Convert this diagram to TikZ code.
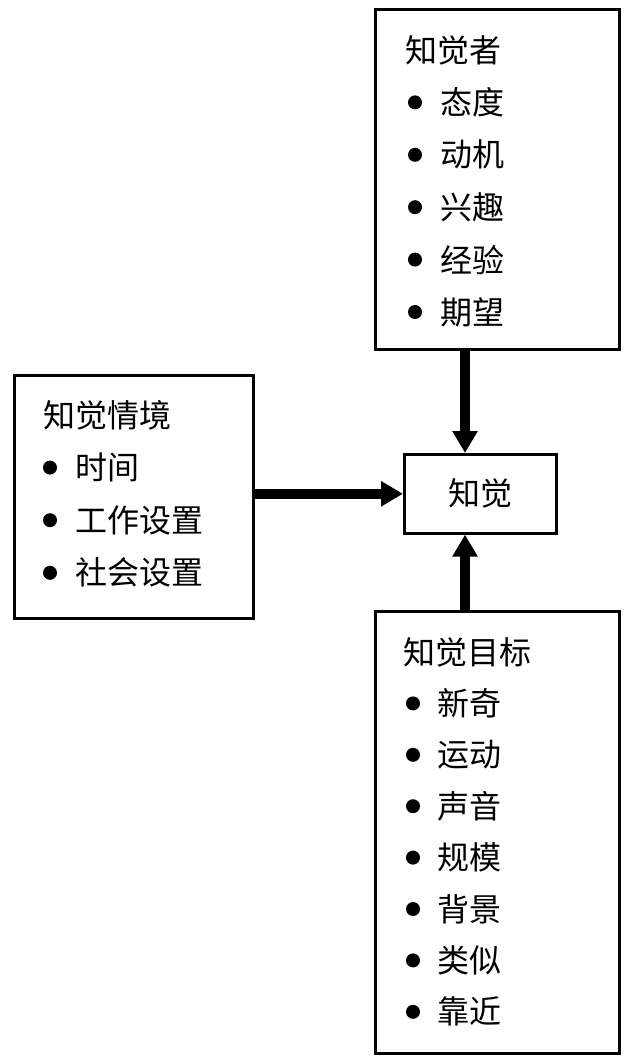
\documentclass[tikz,border=0pt]{standalone}
\usepackage{fontspec}
\setmainfont{Noto Sans CJK SC}
\usetikzlibrary{arrows.meta}

\begin{document}
\begin{tikzpicture}[x=0.5pt, y=-0.5pt,
  box/.style={draw, line width=1.3pt, inner sep=0pt, anchor=north west},
  dot/.style={circle, fill, inner sep=0pt, minimum size=7pt},
  txt/.style={anchor=west, inner sep=0pt, font=\fontsize{16}{20}\selectfont},
  flow/.style={line width=5pt, -{Triangle[length=11pt, width=12pt]}}]
  \useasboundingbox (0,0) rectangle (631,1063);

  % 四个方框
  \node[box, minimum width=122pt, minimum height=170pt] (per) at (374,8) {};
  \node[box, minimum width=119.5pt, minimum height=121.5pt] (sit) at (13,374) {};
  \node[box, minimum width=76pt, minimum height=39.5pt] (ctr) at (403,453) {};
  \node[box, minimum width=122pt, minimum height=221pt] (tgt) at (374,610) {};

  \node[font=\fontsize{16}{20}\selectfont] (ctrtxt) at (ctr) {知觉};

  % 知觉者
  \node[txt] (pertitle) at (405,50) {知觉者};
  \foreach \t [count=\i] in {态度, 动机, 兴趣, 经验, 期望} {
    \node[dot] (perb\i) at (415,{50+52.4*\i}) {};
    \node[txt] (peri\i) at (440,{50+52.4*\i}) {\t};
  }

  % 知觉情境
  \node[txt] (sittitle) at (43,415) {知觉情境};
  \foreach \t [count=\i] in {时间, 工作设置, 社会设置} {
    \node[dot] (sitb\i) at (50,{415+52.6*\i}) {};
    \node[txt] (siti\i) at (75,{415+52.6*\i}) {\t};
  }

  % 知觉目标
  \node[txt] (tgttitle) at (403,652) {知觉目标};
  \foreach \t [count=\i] in {新奇, 运动, 声音, 规模, 背景, 类似, 靠近} {
    \node[dot] (tgtb\i) at (413,{652+51.4*\i}) {};
    \node[txt] (tgti\i) at (437,{652+51.4*\i}) {\t};
  }

  % 箭头
  \coordinate (vx) at (465,0);
  \draw[flow] (per.south -| vx) -- (ctr.north -| vx);
  \draw[flow] (tgt.north -| vx) -- (ctr.south -| vx);
  \draw[flow] (sit.east |- ctr.west) -- (ctr.west);
\end{tikzpicture}
\end{document}
